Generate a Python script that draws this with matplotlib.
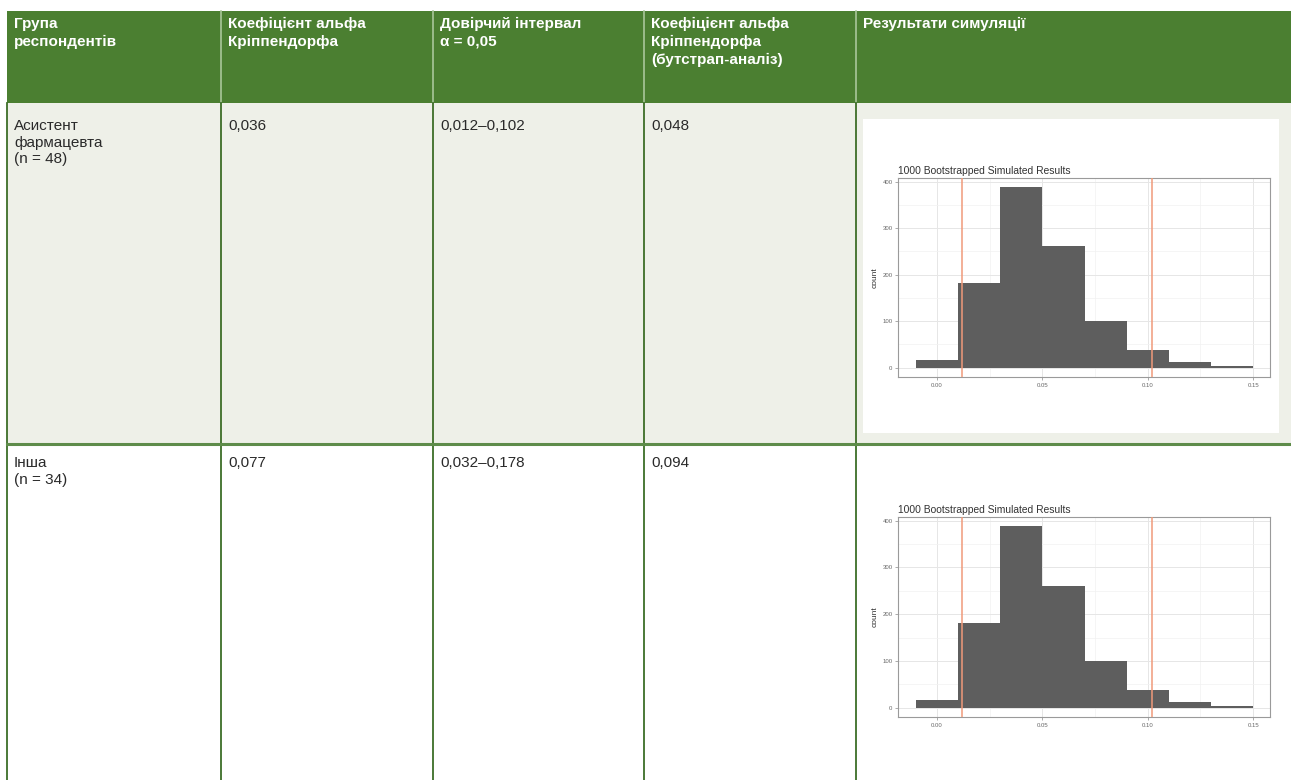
import numpy as np
import matplotlib.pyplot as plt
from matplotlib.patches import Rectangle
from matplotlib.ticker import MultipleLocator, FormatStrFormatter

# Дані таблиці
headers = ["Група\nреспондентів", "Коефіцієнт альфа\nКріппендорфа",
           "Довірчий інтервал\nα = 0,05",
           "Коефіцієнт альфа\nКріппендорфа\n(бутстрап-аналіз)",
           "Результати симуляції"]
groups = ["Асистент\nфармацевта\n(n = 48)", "Інша\n(n = 34)"]
alpha_vals = ["0,036", "0,077"]
ci_vals = ["0,012–0,102", "0,032–0,178"]
boot_vals = ["0,048", "0,094"]

# Дані гістограми (однакові в обох рядках)
bin_edges = [-0.01, 0.01, 0.03, 0.05, 0.07, 0.09, 0.11, 0.13, 0.15]
bin_counts = [17, 182, 388, 261, 100, 37, 12, 3]
ci_lines = [0.012, 0.102]

W, H = 1291, 780
col_x = [7, 221, 433, 644, 856, W]
header_y = (11, 103)
row_y = [(103, 444), (444, H)]
row_pad = [16, 12]

green = '#4B7F31'
green_dark = '#3D6E28'
row_bg = ['#EEF0E8', '#FFFFFF']

plt.rcParams['font.family'] = ['Liberation Sans', 'DejaVu Sans']

fig = plt.figure(figsize=(W / 100, H / 100), dpi=100)
bg = fig.add_axes([0, 0, 1, 1])
bg.set_xlim(0, W)
bg.set_ylim(H, 0)
bg.axis('off')

# шапка
bg.add_patch(Rectangle((col_x[0], header_y[0]), W - col_x[0], header_y[1] - header_y[0],
                       facecolor=green, edgecolor='none'))
for x in col_x[1:-1]:
    bg.plot([x, x], header_y, color='#A9C79A', lw=1.2)
for i, h in enumerate(headers):
    bg.text(col_x[i] + 7, header_y[0] + 6, h, color='white', fontsize=11,
            fontweight='bold', va='top', ha='left', linespacing=1.35)

# рядки
row_texts = list(zip(groups, alpha_vals, ci_vals, boot_vals))
for r, (y0, y1) in enumerate(row_y):
    bg.add_patch(Rectangle((col_x[0], y0), W - col_x[0], y1 - y0,
                           facecolor=row_bg[r], edgecolor='none'))
    for x in col_x[:-1]:
        bg.plot([x, x], (y0, y1), color=green_dark, lw=1.3)
    for i, t in enumerate(row_texts[r]):
        bg.text(col_x[i] + 7, y0 + row_pad[r], t, color='#2A2A2A', fontsize=11,
                va='top', ha='left', linespacing=1.25)
bg.plot([col_x[0], W], [row_y[1][0], row_y[1][0]], color='#5E8C4A', lw=2.2)

# біла підкладка під малюнком в першому рядку
bg.add_patch(Rectangle((863, 119), 1279 - 863, 433 - 119, facecolor='white', edgecolor='none'))


def add_hist(x0, y0, x1, y1):
    ax = fig.add_axes([x0 / W, 1 - y1 / H, (x1 - x0) / W, (y1 - y0) / H])
    ax.bar(bin_edges[:-1], bin_counts, width=np.diff(bin_edges), align='edge',
           color='#5E5E5E', edgecolor='none', zorder=2)
    for v in ci_lines:
        ax.axvline(v, color='#F09A7A', lw=1.1, zorder=3)
    ax.set_xlim(-0.0185, 0.158)
    ax.set_ylim(-20, 408)
    ax.xaxis.set_major_locator(MultipleLocator(0.05))
    ax.xaxis.set_minor_locator(MultipleLocator(0.025))
    ax.yaxis.set_major_locator(MultipleLocator(100))
    ax.yaxis.set_minor_locator(MultipleLocator(50))
    ax.xaxis.set_major_formatter(FormatStrFormatter('%.2f'))
    ax.grid(which='major', color='#E6E6E6', lw=0.7, zorder=0)
    ax.grid(which='minor', color='#F2F2F2', lw=0.5, zorder=0)
    ax.tick_params(which='major', labelsize=4.3, colors='#888888', length=2, width=0.5,
                   labelcolor='#666666', pad=2)
    ax.tick_params(which='minor', length=0)
    for s in ax.spines.values():
        s.set_color('#9A9A9A')
        s.set_linewidth(0.8)
    ax.set_ylabel('count', fontsize=6, color='#333333', labelpad=3)
    ax.set_title('1000 Bootstrapped Simulated Results', fontsize=7.4, loc='left',
                 color='#333333', pad=3)
    return ax


add_hist(898, 178, 1270, 377)
add_hist(898, 517, 1270, 717)

fig.savefig('out.png', dpi=100)
